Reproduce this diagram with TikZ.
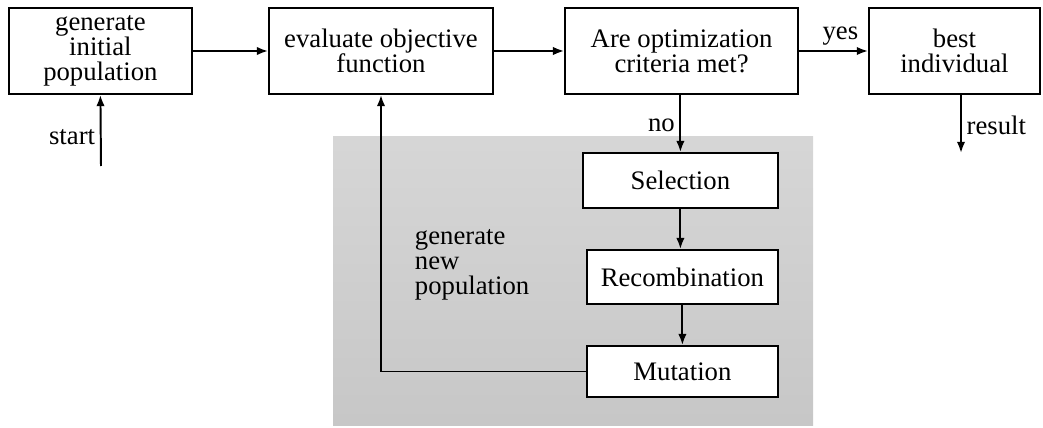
\documentclass[tikz,border=0pt]{standalone}
\usepackage{fontspec}
\setmainfont{Liberation Serif}
\usetikzlibrary{arrows.meta}

\begin{document}
\begin{tikzpicture}[
  box/.style={draw, line width=1.3pt, fill=white, align=center, inner sep=2pt,
    font=\fontsize{19}{17.8}\selectfont},
  lbl/.style={font=\fontsize{19}{17.8}\selectfont},
  flow/.style={-{Latex[length=8pt,width=6pt]}, line width=1.4pt}
]
\useasboundingbox (0,0) rectangle (26.075,10.675);

% Gray area of the generation loop
\shade[top color=gray!32, bottom color=gray!44] (8.325,0.05) rectangle (20.325,7.25);

% Main row
\node[box, minimum width=4.575cm, minimum height=2.15cm] (init) at (2.51,9.4) {generate\\initial\\population};
\node[box, minimum width=5.6cm, minimum height=2.15cm] (eval) at (9.525,9.4) {evaluate objective\\function};
\node[box, minimum width=5.825cm, minimum height=2.15cm] (crit) at (17.04,9.4) {Are optimization\\criteria met?};
\node[box, minimum width=4.275cm, minimum height=2.15cm] (best) at (23.86,9.4) {best\\individual};

% Loop
\node[box, minimum width=4.875cm, minimum height=1.375cm] (sel) at (17.01,6.1625) {Selection};
\node[box, minimum width=4.775cm, minimum height=1.35cm] (rec) at (17.06,3.75) {Recombination};
\node[box, minimum width=4.775cm, minimum height=1.275cm] (mut) at (17.06,1.3875) {Mutation};

\node[lbl, align=left, anchor=west] (newpop) at (10.25,4.05) {generate\\new\\population};

% Free ends
\coordinate (start) at (2.525,6.525);
\coordinate (result) at (24.025,6.85);

% Arrows
\draw[flow] (start) -- node[lbl, left, pos=0.4] {start} (init.south);
\draw[flow] (init) -- (eval);
\draw[flow] (eval) -- (crit);
\draw[flow] (crit) -- node[lbl, above, pos=0.6] {yes} (best);
\draw[flow] (result |- best.south) -- node[lbl, right, pos=0.53] {result} (result);
\draw[flow] (crit.south -| sel.north) -- node[lbl, left, pos=0.53] {no} (sel.north);
\draw[flow] (sel) -- (sel.south |- rec.north);
\draw[flow] (rec) -- (mut);
\draw[flow] (mut.west) -- (mut.west -| eval.south) -- (eval.south);

\end{tikzpicture}
\end{document}
